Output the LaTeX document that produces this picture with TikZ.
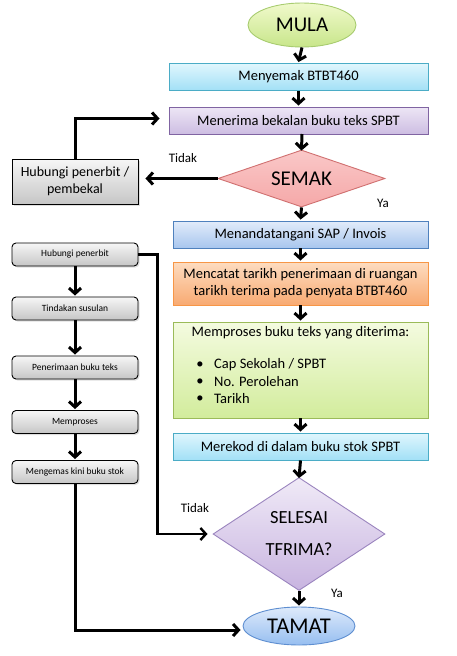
\documentclass[tikz,border=0pt]{standalone}
\usepackage{fontspec}
\setmainfont{Carlito}
\usetikzlibrary{arrows.meta,shapes.geometric,shadows}
\definecolor{cyanT}{HTML}{E0F6FD}\definecolor{cyanB}{HTML}{A2E0F6}\definecolor{cyanD}{HTML}{4BACC6}
\definecolor{purT}{HTML}{EDE6F5}\definecolor{purB}{HTML}{CDBDE2}\definecolor{purD}{HTML}{8064A2}
\definecolor{pinkT}{HTML}{FAC8C8}\definecolor{pinkB}{HTML}{F5A8A8}\definecolor{pinkD}{HTML}{D07070}
\definecolor{bluT}{HTML}{E2ECFA}\definecolor{bluB}{HTML}{A8C6EE}\definecolor{bluD}{HTML}{4F81BD}
\definecolor{orT}{HTML}{FDDCC0}\definecolor{orB}{HTML}{F8AA72}\definecolor{orD}{HTML}{F79646}
\definecolor{grT}{HTML}{F4FBE0}\definecolor{grB}{HTML}{D2EC9C}\definecolor{grD}{HTML}{9BBB59}
\definecolor{spT}{HTML}{F0EAF7}\definecolor{spB}{HTML}{C8B4E0}\definecolor{spD}{HTML}{9A84BE}
\definecolor{tmT}{HTML}{DEEAFB}\definecolor{tmB}{HTML}{96BEF0}\definecolor{tmD}{HTML}{5E8ED0}
\definecolor{mlT}{HTML}{F0F9CC}\definecolor{mlB}{HTML}{C8E68A}\definecolor{mlD}{HTML}{A8CC70}
\definecolor{gyT}{HTML}{F6F6F6}\definecolor{gyB}{HTML}{C6C6C6}
\tikzset{
  every node/.style={inner sep=0pt},
  box/.style={draw, line width=0.9pt, minimum width=#1, minimum height=27pt},
  cyanbox/.style={box=259pt, draw=cyanD, top color=cyanT, bottom color=cyanB},
  txt/.style={font=\fontsize{14.5}{17}\selectfont, align=center},
  greybox/.style={draw=black, line width=0.9pt, top color=gyT, bottom color=gyB, minimum width=126pt, drop shadow={opacity=0.25,shadow xshift=1.5pt,shadow yshift=-1.5pt}},
  smallbox/.style={greybox, rounded corners=4pt, minimum height=23pt, font=\fontsize{9.5}{11}\selectfont},
  conn/.style={line width=3pt, -{Straight Barb[length=5.5pt,width=12pt]}},
  lbl/.style={font=\fontsize{13}{15}\selectfont},
}
\begin{document}
\begin{tikzpicture}[x=1pt,y=-1pt]
\useasboundingbox (0,0) rectangle (456,656);
% main column
\node[ellipse, draw=mlD, line width=0.9pt, top color=mlT, bottom color=mlB, minimum width=108pt, minimum height=44pt, font=\fontsize{21}{23}\selectfont] (mula) at (302,25) {MULA};
\node[cyanbox, txt] (menyemak) at (298.5,77) {Menyemak BTBT460};
\node[box=259pt, draw=purD, top color=purT, bottom color=purB, txt] (menerima) at (298.5,120.5) {Menerima bekalan buku teks SPBT};
\node[diamond, aspect=2.93, draw=pinkD, line width=0.9pt, top color=pinkT, bottom color=pinkB, minimum width=167pt, minimum height=57pt, font=\fontsize{21}{23}\selectfont] (semak) at (301.5,178.5) {SEMAK};
\node[greybox, minimum height=45pt, txt, font=\fontsize{14}{17}\selectfont] (hp) at (75,181.5) {Hubungi penerbit /\\pembekal};
\node[box=255pt, draw=bluD, top color=bluT, bottom color=bluB, txt] (sign) at (300.5,234.5) {Menandatangani SAP / Invois};
\node[box=255pt, minimum height=43pt, draw=orD, top color=orT, bottom color=orB, txt] (catat) at (300.5,283.5) {Mencatat tarikh penerimaan di ruangan\\tarikh terima pada penyata BTBT460};
\node[box=255pt, minimum height=96pt, draw=grD, top color=grT, bottom color=grB] (proses) at (300.5,370) {};
\node[txt] (pt) at (300.5,333) {Memproses buku teks yang diterima:};
\node[txt] (b1) at (200,365) {•};
\node[txt, anchor=west] (i1) at (214,365) {Cap Sekolah / SPBT};
\node[txt] (b2) at (200,382) {•};
\node[txt, anchor=west] (i2) at (214,382) {No. Perolehan};
\node[txt] (b3) at (200,399) {•};
\node[txt, anchor=west] (i3) at (214,399) {Tarikh};
\node[box=255pt, draw=cyanD, top color=cyanT, bottom color=cyanB, txt] (rekod) at (300.5,446.5) {Merekod di dalam buku stok SPBT};
\node[diamond, aspect=1.52, draw=spD, line width=0.9pt, top color=spT, bottom color=spB, minimum width=172pt, minimum height=113pt, font=\fontsize{18.5}{32}\selectfont, align=center] (selesai) at (299,534) {SELESAI\\TFRIMA?};
\node[ellipse, draw=tmD, line width=0.9pt, top color=tmT, bottom color=tmB, minimum width=112pt, minimum height=38pt, font=\fontsize{22.5}{24}\selectfont] (tamat) at (299,626) {TAMAT};
% left column
\node[smallbox] (s1) at (75,254.5) {Hubungi penerbit};
\node[smallbox] (s2) at (75,308.5) {Tindakan susulan};
\node[smallbox] (s3) at (75,367.5) {Penerimaan buku teks};
\node[smallbox] (s4) at (75,422) {Memproses};
\node[smallbox] (s5) at (75,472) {Mengemas kini buku stok};
% labels
\node[lbl] (t1) at (183,158) {Tidak};
\node[lbl] (y1) at (383,203) {Ya};
\node[lbl] (t2) at (195,508) {Tidak};
\node[lbl] (y2) at (337,593) {Ya};
% connectors
\draw[conn] (mula.south) -- ([yshift=1pt]menyemak.north);
\draw[conn] (menyemak.south) -- ([yshift=1pt]menerima.north);
\draw[conn] (302,134) -- ([yshift=-1pt]semak.north);
\draw[conn] (semak.west) -- ([xshift=7pt]hp.east |- semak.west);
\draw[conn] (hp.north) |- ([xshift=-9pt,yshift=2pt]menerima.west);
\draw[conn] (semak.south) -- ([yshift=1pt]sign.north);
\draw[conn] (sign.south) -- ([yshift=1pt]catat.north);
\draw[conn] (catat.south) -- ([yshift=1pt]proses.north);
\draw[conn] (proses.south) -- ([yshift=1pt]rekod.north);
\draw[conn] (rekod.south) -- ([yshift=-1pt]selesai.north);
\draw[conn] (selesai.south) -- ([yshift=1pt]tamat.north);
\draw[conn] (s1.south) -- ([yshift=1pt]s2.north);
\draw[conn] (s2.south) -- ([yshift=1pt]s3.north);
\draw[conn] (s3.south) -- ([yshift=1pt]s4.north);
\draw[conn] (s4.south) -- ([yshift=1pt]s5.north);
\draw[conn, line width=2.4pt] (s1.east) -- ++(19,0) |- ([xshift=-5pt]selesai.west);
\draw[conn] (s5.south) |- ([xshift=-2pt,yshift=-4pt]tamat.west);
\end{tikzpicture}
\end{document}
